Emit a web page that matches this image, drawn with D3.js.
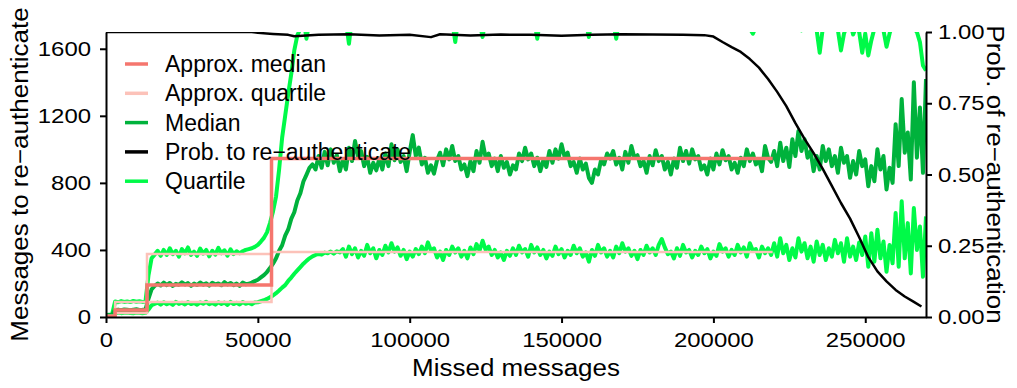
<!DOCTYPE html>
<html>
<head>
<meta charset="utf-8">
<script src="https://cdn.jsdelivr.net/npm/d3@7"></script>
<style>
  body { margin: 0; background: #fff; }
  svg text { font-family: "Liberation Sans", Arial, Helvetica, sans-serif; fill: #000; }
</style>
</head>
<body>
<div id="chart"></div>
<script>
// sampled every 1000 missed messages, starting at 0
const missedStep = 1000;

const medianValues = [
  10, 12, 14, 42, 44, 41, 45, 43, 40, 44, 46, 42, 43, 45,
  110, 165, 185,
  200, 188, 205, 190, 203, 185, 198, 192, 207, 194, 202, 186, 199, 191, 206, 193, 201, 187, 204, 195,
  200, 189, 208, 194, 203, 190, 199, 186, 205, 196, 198,
  205, 214, 222, 236, 250, 268, 292,
  318, 350, 395, 428, 485, 522, 585, 625, 695, 738, 808, 848, 890, 910, 880,
  960, 890, 985, 905, 1000, 920, 965, 870, 940, 880,
  1010, 930, 1050, 950, 990, 900, 955, 860, 920, 875,
  945, 880, 975, 900, 1030, 935, 1000, 925, 960, 870,
  985, 1085, 960, 1010, 910, 950, 860, 905, 855, 935,
  980, 905, 1000, 940, 1020, 930, 960, 880, 910, 840,
  930, 870, 990, 920, 1045, 950, 975, 900, 945, 870,
  960, 890, 925, 850, 905, 880, 975, 930, 1010, 940,
  975, 900, 950, 870, 935, 895, 990, 920, 1000, 945,
  1030, 955, 980, 900, 925, 860, 945, 880, 915, 830,
  800, 880, 850, 935, 910, 975, 945, 990, 910, 950,
  880, 985, 920, 1020, 950, 965, 900, 930, 860, 960,
  905, 995, 930, 960, 880, 925, 850, 945, 890, 1010,
  930, 990, 915, 1000, 940, 960, 880, 905, 850, 945,
  880, 975, 910, 995, 935, 960, 880, 920, 860, 950,
  900, 1000, 930, 975, 910, 940, 870, 1020, 950, 925,
  990, 900, 1040, 930, 1010, 895, 1060, 960, 1110, 990,
  1060, 950, 990, 870, 960, 880, 1020, 930, 1000, 900,
  960, 860, 1010, 920, 960, 830, 930, 850, 990, 900,
  940, 780, 900, 810, 1000, 880, 960, 760, 890, 800,
  1150, 900, 1300, 980, 1100, 820, 1400, 950, 1250, 860, 1420
];

const upperQuartileValues = [
  12, 14, 15, 92, 88, 95, 90, 93, 89, 96, 91, 94, 90, 92,
  250, 350, 372,
  395, 365, 400, 370, 410, 375, 395, 360, 405, 380, 415, 370, 390, 365, 408, 378, 400, 362, 395, 372,
  412, 380, 398, 366, 404, 375, 392, 380,
  392, 400, 405, 410, 418, 430, 450, 472, 505, 560, 630, 720, 880, 1070, 1200, 1330, 1450, 1590, 1680, 1720,
  1790, 1660, 1770, 1800, 1780, 1810, 1760, 1790, 1800, 1775,
  1795, 1780, 1810, 1770, 1760, 1630, 1785, 1800, 1790, 1770,
  1800, 1780, 1795, 1810, 1770, 1790, 1780, 1800, 1765, 1790,
  1805, 1780, 1790, 1770, 1800, 1785, 1760, 1795, 1810, 1780,
  1790, 1770, 1800, 1785, 1795, 1775, 1810, 1790, 1780, 1765,
  1640, 1790, 1800, 1780, 1770, 1805, 1790, 1780, 1760, 1670,
  1785, 1800, 1790, 1775, 1810, 1780, 1795, 1770, 1790, 1800,
  1780, 1765, 1795, 1805, 1780, 1790, 1770, 1660, 1785, 1800,
  1790, 1810, 1775, 1780, 1795, 1770, 1800, 1785, 1790, 1765,
  1805, 1780, 1790, 1760, 1670, 1790, 1800, 1780, 1795, 1775,
  1810, 1785, 1760, 1660, 1780, 1800, 1790, 1770, 1805, 1785,
  1795, 1780, 1765, 1800, 1790, 1775, 1810, 1785, 1780, 1795,
  1770, 1800, 1790, 1780, 1765, 1805, 1785, 1795, 1780, 1770,
  1800, 1790, 1775, 1810, 1785, 1780, 1795, 1765, 1790, 1800,
  1780, 1770, 1805, 1790, 1785, 1760, 1740, 1720, 1690, 1730,
  1760, 1790, 1780, 1770, 1750, 1795, 1780, 1720, 1760, 1790,
  1770, 1740, 1780, 1760, 1710, 1770, 1750, 1720, 1740, 1710,
  1576, 1720, 1740, 1760, 1730, 1750, 1710, 1590, 1690, 1740,
  1760, 1685, 1730, 1700, 1576, 1690, 1560, 1650, 1720, 1740,
  1730, 1710, 1612, 1690, 1750, 1730, 1760, 1740, 1750, 1730,
  1740, 1720, 1700, 1640, 1500, 1470
];

const lowerQuartileValues = [
  4, 5, 6, 24, 26, 23, 25, 27, 24, 22, 26, 25, 23, 25,
  45, 70, 78,
  86, 74, 88, 76, 84, 72, 90, 78, 85, 75, 89, 77, 83, 73, 87, 79, 91, 76, 84, 74,
  88, 78, 86, 72, 90, 77, 85, 75, 89, 79, 84, 76, 87,
  88, 94, 100, 108, 118, 128, 142, 158, 175, 190,
  215, 235, 258, 278, 298, 318, 335, 350, 362, 370,
  376, 372, 384, 380, 390, 378, 392, 385,
  405, 360, 420, 375, 410, 355, 395, 365, 430, 380,
  410, 350, 400, 370, 425, 385, 440, 390, 415, 365,
  400, 345, 390, 360, 405, 375, 420, 380, 445, 395,
  410, 355, 390, 340, 400, 370, 420, 385, 410, 360,
  395, 350, 415, 375, 435, 395, 455, 400, 420, 370,
  400, 355, 385, 340, 395, 365, 410, 370, 425, 385,
  405, 360, 430, 385, 415, 370, 400, 350, 390, 365,
  420, 375, 405, 355, 395, 370, 425, 380, 410, 360,
  385, 330, 400, 365, 430, 385, 410, 360, 395, 355,
  420, 380, 440, 390, 410, 365, 395, 345, 400, 370,
  425, 385, 410, 370, 430, 465, 415, 375, 390, 350,
  410, 365, 430, 385, 400, 355, 395, 370, 420, 380,
  405, 350, 390, 365, 435, 390, 410, 360, 400, 370,
  430, 385, 415, 360, 440, 395, 405, 355, 420, 380,
  410, 370,
  440, 360, 470, 380, 430, 340, 410, 355, 470, 390,
  440, 350, 420, 330, 450, 370, 430, 340, 410, 360,
  460, 380, 440, 330, 470, 360, 420, 340, 445, 370,
  480, 300, 500, 330, 520, 350, 450, 270, 430, 320,
  620, 300, 690, 350, 560, 260, 650, 400, 540, 240, 600
];

// step-shaped approximations
const approxMedianMissed = [0, 3000, 13500, 54500, 219500];
const approxMedianValues = [5, 42, 191, 945, 945];
const approxLowerMissed = [0, 3000, 13500, 54500, 219500];
const approxLowerValues = [3, 24, 90, 388, 388];
const approxUpperMissed = [0, 3000, 13500, 54500];
const approxUpperValues = [8, 90, 376, 376];

const probMissed = [0, 48000, 50000, 55000, 60000, 62000, 70000, 80000, 90000, 100000, 107000, 110000,
  120000, 130000, 140000, 150000, 160000, 170000, 180000, 190000, 197000, 200000, 203000, 206000,
  209000, 212000, 215000, 218000, 221000, 224000, 227000, 230000, 233000, 236000, 239000, 242000,
  245000, 248000, 251000, 254000, 257000, 260000, 263000, 266000, 268500];
const probValues = [1.0, 1.0, 0.997, 0.993, 0.99, 0.985, 0.99, 0.992, 0.988, 0.99, 0.982, 0.992,
  0.988, 0.991, 0.99, 0.987, 0.99, 0.992, 0.991, 0.99, 0.989, 0.984, 0.965, 0.947,
  0.93, 0.905, 0.875, 0.835, 0.79, 0.74, 0.68, 0.625, 0.575, 0.52, 0.46, 0.40,
  0.345, 0.28, 0.21, 0.16, 0.125, 0.095, 0.072, 0.053, 0.037];

const leftTicks = [0, 400, 800, 1200, 1600];
const rightTicks = [0, 0.25, 0.5, 0.75, 1];
const bottomTicks = [0, 50000, 100000, 150000, 200000, 250000];

const legendItems = [
  { label: "Approx. median", color: "#F5766E" },
  { label: "Approx. quartile", color: "#FCC2B9" },
  { label: "Median", color: "#00B23C" },
  { label: "Prob. to re\u2212authenticate", color: "#000000" },
  { label: "Quartile", color: "#00FA48" }
];

const W = 1017, H = 388;
const margin = { top: 32, right: 91, bottom: 71, left: 106 };
const width = W - margin.left - margin.right;
const height = H - margin.top - margin.bottom;
// the reference font runs wider than Liberation Sans
const tickStretch = 1.14, titleStretch = 1.13;

const svg = d3.select("#chart").append("svg")
  .attr("width", W)
  .attr("height", H);

const g = svg.append("g")
  .attr("transform", `translate(${margin.left},${margin.top})`);

const x = d3.scaleLinear().domain([0, 270000]).range([0, width]);
const yLeft = d3.scaleLinear().domain([0, 1700]).range([height, 0]);
const yRight = d3.scaleLinear().domain([0, 1]).range([height, 0]);

g.append("clipPath").attr("id", "plot-clip")
  .append("rect").attr("x", 0).attr("y", 0).attr("width", width).attr("height", height);

const plot = g.append("g").attr("clip-path", "url(#plot-clip)");

const sampledLine = d3.line()
  .x((d, i) => x(i * missedStep))
  .y(d => yLeft(d));

const drawSampled = (values, color) => {
  plot.append("path")
    .datum(values)
    .attr("fill", "none")
    .attr("stroke", color)
    .attr("stroke-width", 4)
    .attr("stroke-linejoin", "round")
    .attr("d", sampledLine);
};

drawSampled(lowerQuartileValues, "#00FA48");
drawSampled(upperQuartileValues, "#00FA48");
drawSampled(medianValues, "#00B23C");

const stepLine = d3.line()
  .curve(d3.curveStepAfter)
  .x(d => x(d[0]))
  .y(d => yLeft(d[1]));

const drawStep = (xs, ys, color, w) => {
  plot.append("path")
    .datum(d3.zip(xs, ys))
    .attr("fill", "none")
    .attr("stroke", color)
    .attr("stroke-width", w)
    .attr("d", stepLine);
};

drawStep(approxLowerMissed, approxLowerValues, "#FCC2B9", 2.5);
drawStep(approxUpperMissed, approxUpperValues, "#FCC2B9", 2.5);
drawStep(approxMedianMissed, approxMedianValues, "#F5766E", 3.5);

// probability on the right axis
plot.append("path")
  .datum(d3.zip(probMissed, probValues))
  .attr("fill", "none")
  .attr("stroke", "#000")
  .attr("stroke-width", 2.5)
  .attr("stroke-linejoin", "round")
  .attr("d", d3.line().x(d => x(d[0])).y(d => yRight(d[1])));

// axes
const styleAxis = (sel, textX) => {
  sel.selectAll(".domain").attr("stroke", "#000").attr("stroke-width", 2);
  sel.selectAll(".tick line").attr("stroke", "#000").attr("stroke-width", 2);
  const t = sel.selectAll(".tick text")
    .style("font-size", "21px")
    .attr("fill", "#000")
    .attr("transform", `scale(${tickStretch},1)`);
  if (textX !== undefined) t.attr("x", textX / tickStretch);
};

g.append("g")
  .call(d3.axisLeft(yLeft).tickValues(leftTicks).tickSize(6).tickSizeOuter(0).tickPadding(9)
    .tickFormat(d3.format("d")))
  .call(styleAxis, -15);

g.append("g")
  .attr("transform", `translate(${width},0)`)
  .call(d3.axisRight(yRight).tickValues(rightTicks).tickSize(6).tickSizeOuter(0).tickPadding(6)
    .tickFormat(d3.format(".2f")))
  .call(styleAxis, 12);

g.append("g")
  .attr("transform", `translate(0,${height})`)
  .call(d3.axisBottom(x).tickValues(bottomTicks).tickSize(6).tickSizeOuter(0).tickPadding(9)
    .tickFormat(d3.format("d")))
  .call(styleAxis);

// axis titles
svg.append("text")
  .attr("transform", `translate(${margin.left + width / 2},376) scale(${titleStretch},1)`)
  .attr("text-anchor", "middle")
  .style("font-size", "23px")
  .text("Missed messages");

svg.append("text")
  .attr("transform", `translate(20,${margin.top + height / 2}) rotate(-90) scale(${titleStretch},1)`)
  .attr("text-anchor", "middle")
  .attr("dominant-baseline", "central")
  .style("font-size", "23px")
  .text("Messages to re\u2212authenticate");

svg.append("text")
  .attr("transform", `translate(995,${margin.top + height / 2}) rotate(90) scale(${titleStretch},1)`)
  .attr("text-anchor", "middle")
  .attr("dominant-baseline", "central")
  .style("font-size", "23px")
  .text("Prob. of re\u2212authentication");

// legend, no frame
const legend = svg.append("g").attr("transform", "translate(125,64)");
legendItems.forEach((item, i) => {
  const row = legend.append("g").attr("transform", `translate(0,${i * 29.3})`);
  row.append("line")
    .attr("x1", 0).attr("x2", 23)
    .attr("stroke", item.color)
    .attr("stroke-width", 3.5);
  row.append("text")
    .attr("x", 40)
    .attr("dominant-baseline", "central")
    .style("font-size", "23px")
    .text(item.label);
});
</script>
</body>
</html>
